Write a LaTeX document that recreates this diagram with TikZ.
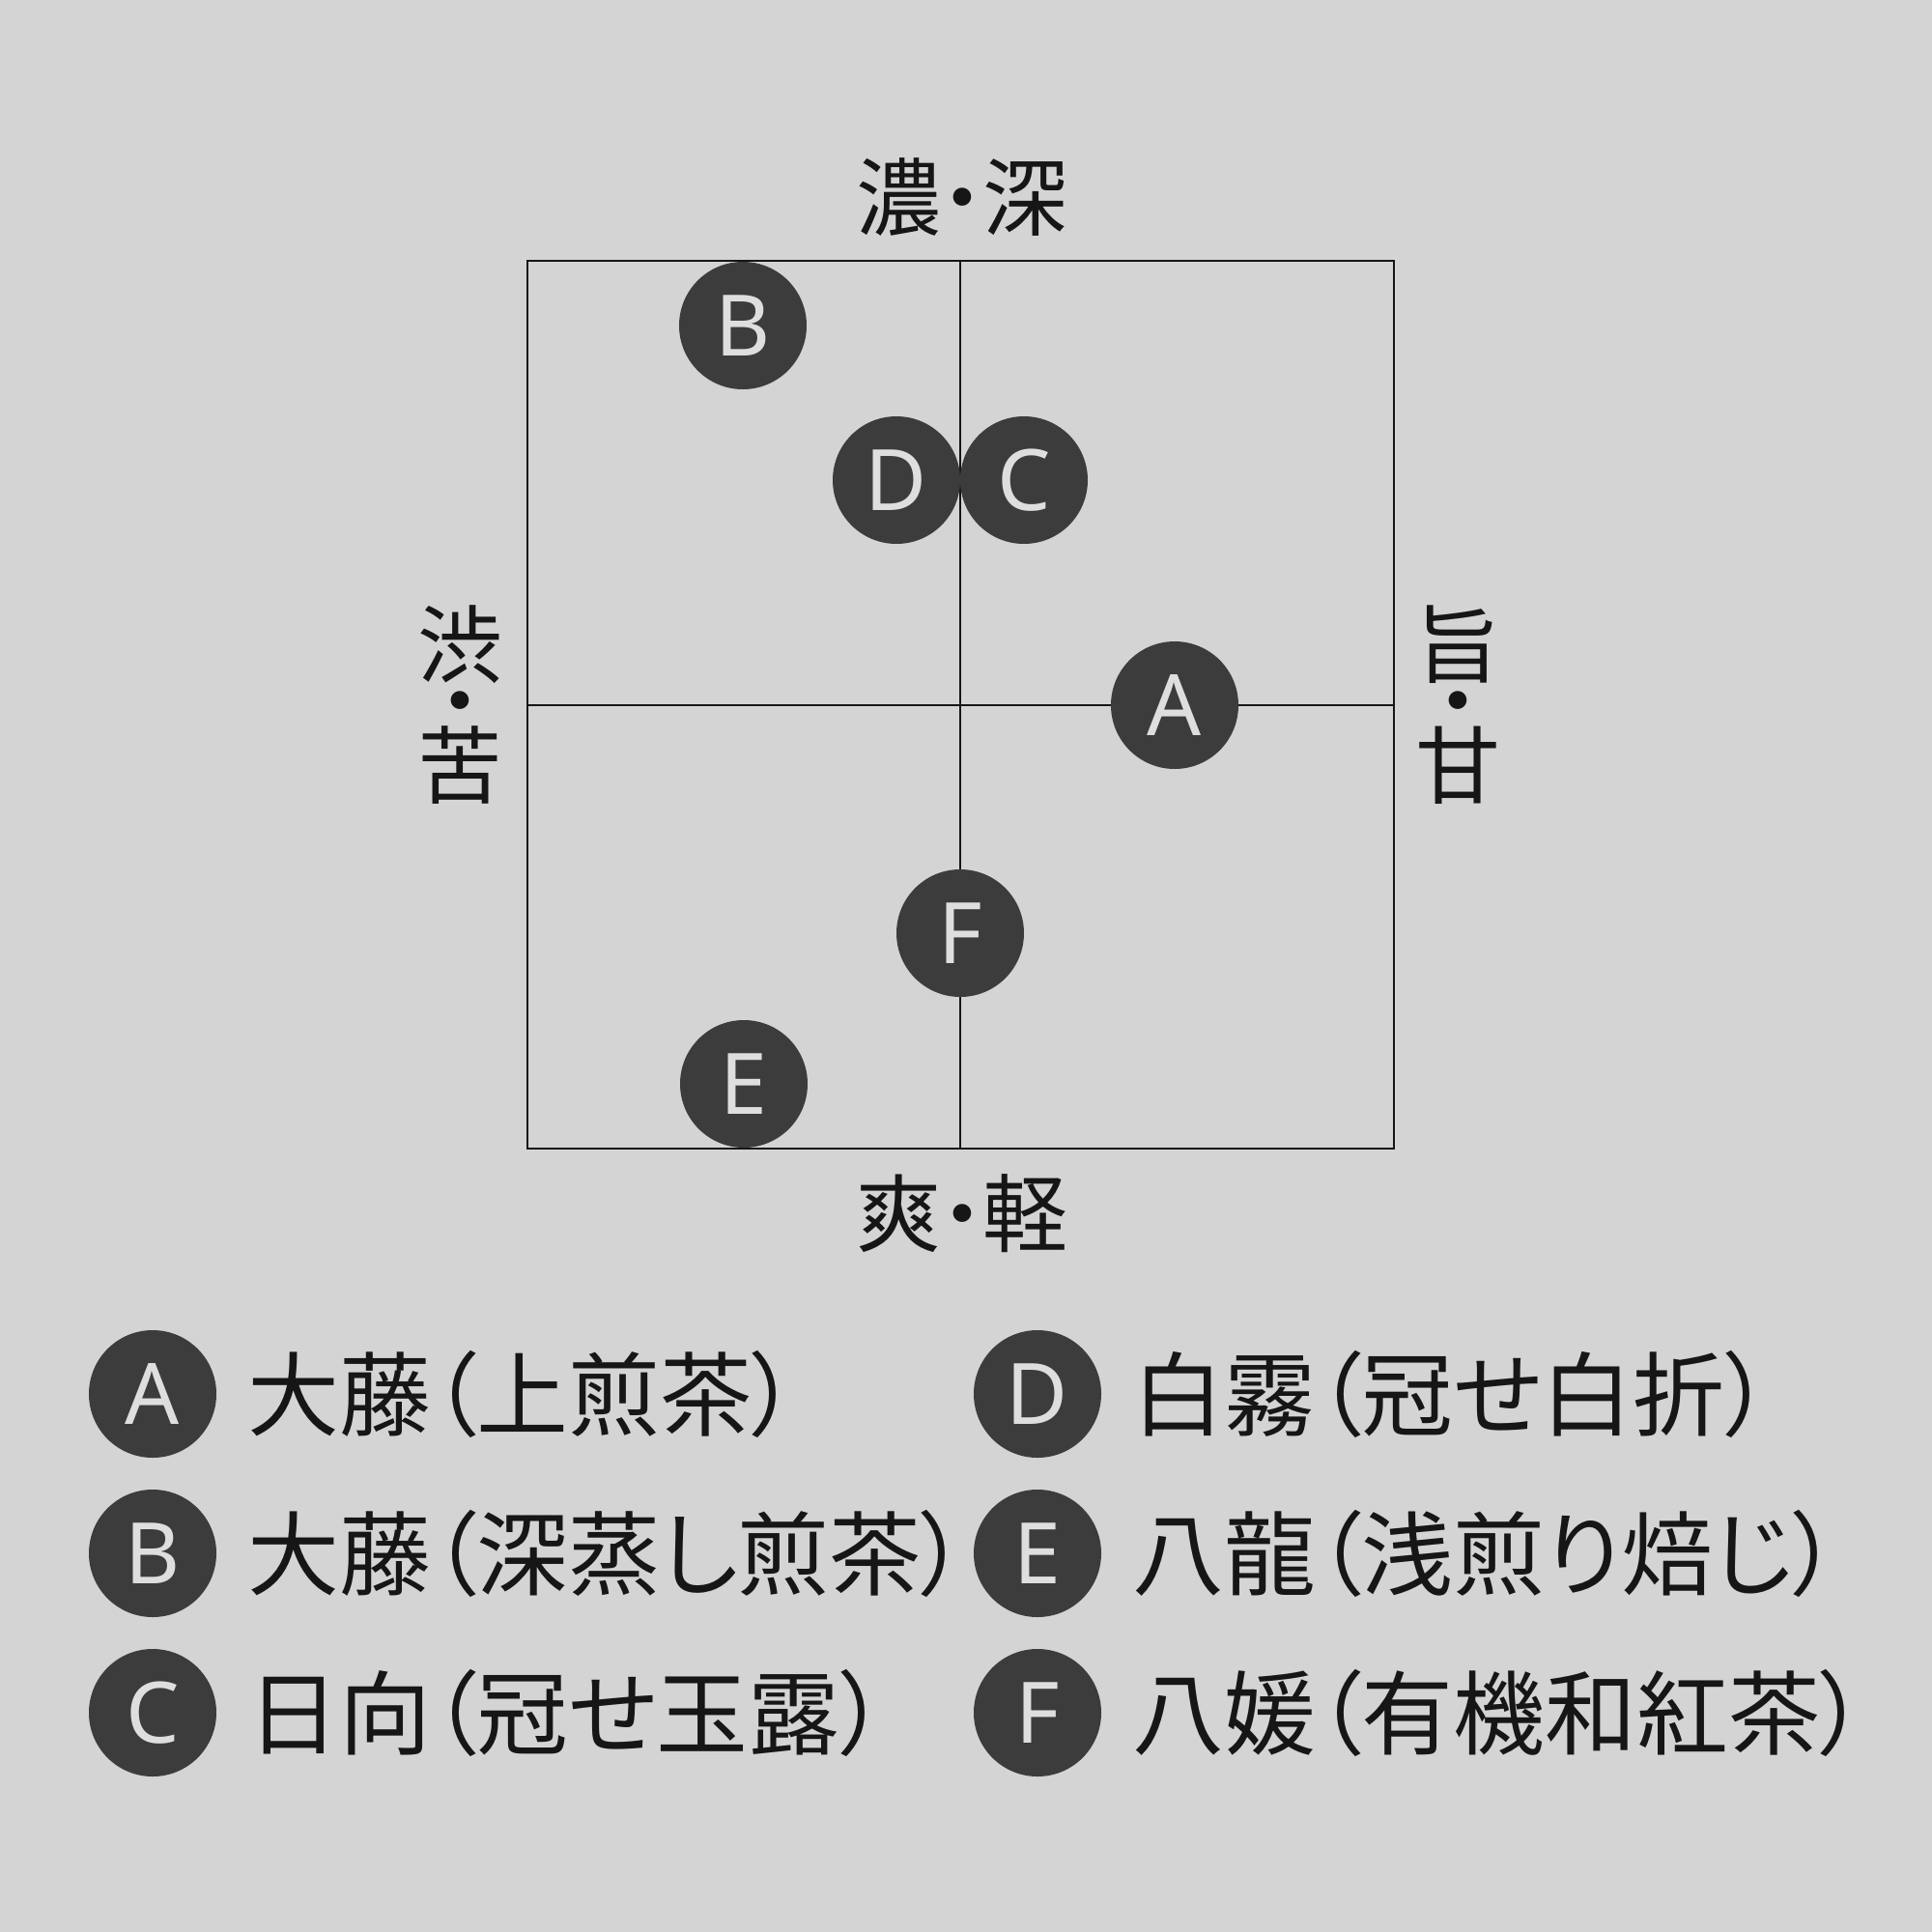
\documentclass[tikz,border=0pt]{standalone}
\usepackage{fontspec}
\setmainfont{Noto Sans}
\newfontfamily\jpfont[RawFeature={+palt}]{Noto Sans CJK JP}
\usepackage{tikz}
\usetikzlibrary{positioning}

\definecolor{paper}{RGB}{212,212,212}
\definecolor{teadark}{RGB}{60,60,60}
\definecolor{tealetter}{RGB}{222,222,222}
\definecolor{ink}{RGB}{22,22,22}

\tikzset{
  teadot/.style={circle,fill=teadark,minimum size=1.32cm,inner sep=0pt,
    text=tealetter,font=\fontsize{25}{25}\selectfont},
  axislabel/.style={inner sep=0pt,text=ink,font=\jpfont\fontsize{25}{25}\selectfont},
  axischar/.style={axislabel,text height=0.68cm,text depth=0cm},
  axisdot/.style={axislabel,text height=0.56cm,text depth=-0.36cm},
  legendtext/.style={anchor=west,inner sep=0pt,text=ink,font=\jpfont\fontsize{27}{27}\selectfont}
}

\begin{document}
\begin{tikzpicture}
        \fill [paper] (0,0) rectangle (20,-20);
        \useasboundingbox (0,0) rectangle (20,-20);
        \draw [ink,line width=0.6pt] (5.46,-2.70) rectangle (14.43,-11.89);
        \draw [ink,line width=0.6pt] (9.94,-2.70) -- (9.94,-11.89);
        \draw [ink,line width=0.6pt] (5.46,-7.30) -- (14.43,-7.30);

        \node [axislabel] (deep) at (9.96,-2.04) {濃・深};
        \node [axislabel] (light) at (9.96,-12.56) {爽・軽};
        \node [axischar] (bitterA) at (4.76,-6.66) {渋};
        \node [axisdot] (bitterB) at (4.76,-7.30) {・};
        \node [axischar] (bitterC) at (4.76,-7.91) {苦};
        \node [axischar] (sweetA) at (15.09,-6.66) {旨};
        \node [axisdot] (sweetB) at (15.09,-7.30) {・};
        \node [axischar] (sweetC) at (15.09,-7.91) {甘};

        \node [teadot] (teaA) at (12.16,-7.30) {A};
        \node [teadot] (teaB) at (7.69,-3.37) {B};
        \node [teadot] (teaC) at (10.60,-4.97) {C};
        \node [teadot] (teaD) at (9.28,-4.97) {D};
        \node [teadot] (teaE) at (7.70,-11.22) {E};
        \node [teadot] (teaF) at (9.94,-9.66) {F};

        \node [teadot] (legA) at (1.58,-14.43) {A};
        \node [teadot] (legB) at (1.58,-16.08) {B};
        \node [teadot] (legC) at (1.58,-17.73) {C};
        \node [teadot] (legD) at (10.74,-14.43) {D};
        \node [teadot] (legE) at (10.74,-16.08) {E};
        \node [teadot] (legF) at (10.74,-17.73) {F};

        \node [legendtext,right=0.31cm of legA] (nameA) {大藤（上煎茶）};
        \node [legendtext,right=0.31cm of legB] (nameB) {大藤（深蒸し煎茶）};
        \node [legendtext,right=0.31cm of legC] (nameC) {日向（冠せ玉露）};
        \node [legendtext,right=0.31cm of legD] (nameD) {白霧（冠せ白折）};
        \node [legendtext,right=0.31cm of legE] (nameE) {八龍（浅煎り焙じ）};
        \node [legendtext,right=0.31cm of legF] (nameF) {八媛（有機和紅茶）};
\end{tikzpicture}
\end{document}
